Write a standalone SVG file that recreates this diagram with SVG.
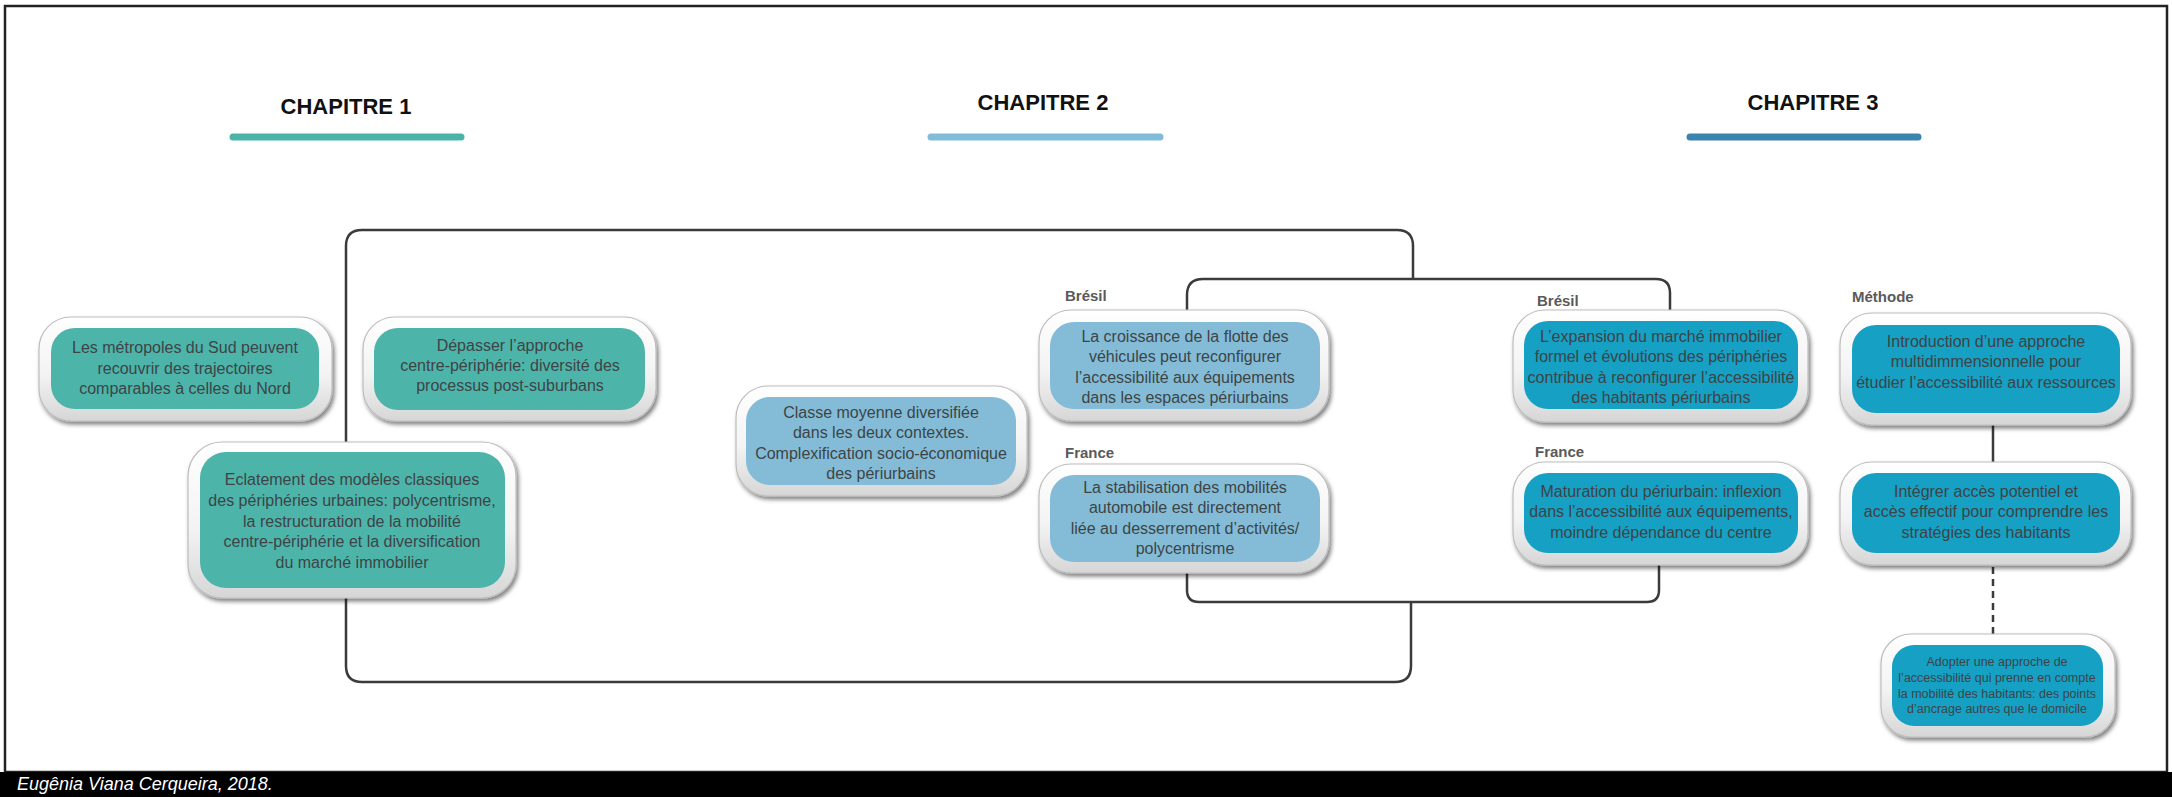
<svg xmlns="http://www.w3.org/2000/svg" width="2172" height="797" viewBox="0 0 2172 797">
<defs>
<linearGradient id="rim" x1="0" y1="0" x2="0" y2="1">
<stop offset="0" stop-color="#ffffff"/>
<stop offset="0.55" stop-color="#f3f3f3"/>
<stop offset="1" stop-color="#d6d6d6"/>
</linearGradient>
<filter id="sh" x="-10%" y="-10%" width="125%" height="130%">
<feDropShadow dx="2" dy="3" stdDeviation="2" flood-color="#000" flood-opacity="0.5"/>
</filter>
<style>
.outer{fill:url(#rim);stroke:#bdbdbd;stroke-width:1.2;filter:url(#sh)}
.c1{fill:#4db4aa}
.c2{fill:#84bcd7}
.c3{fill:#16a0c4}
.t{font-family:"Liberation Sans",Arial,sans-serif;font-size:16px;fill:#3d4446;text-anchor:middle}
.ts{font-size:12.5px}
.lab{font-family:"Liberation Sans",Arial,sans-serif;font-size:15px;font-weight:bold;fill:#5a5a5a}
.title{font-family:"Liberation Sans",Arial,sans-serif;font-size:22px;font-weight:bold;fill:#111;text-anchor:middle}
.bar{stroke-width:7;stroke-linecap:round;fill:none}
.con{fill:none;stroke:#3b3b3b;stroke-width:2.5}
</style>
</defs>
<rect x="0" y="0" width="2172" height="797" fill="#ffffff"/>
<rect x="5" y="6" width="2162" height="766" fill="none" stroke="#222" stroke-width="2.5"/>
<rect x="0" y="772" width="2172" height="25" fill="#000"/>
<text x="17" y="790" font-family="Liberation Sans, Arial, sans-serif" font-size="18" font-style="italic" fill="#fff">Eugênia Viana Cerqueira, 2018.</text>

<g id="headers">
<text class="title" x="346" y="114">CHAPITRE 1</text>
<line class="bar" x1="233" y1="137" x2="461" y2="137" stroke="#4cb3a9"/>
<text class="title" x="1043" y="110">CHAPITRE 2</text>
<line class="bar" x1="931" y1="137" x2="1160" y2="137" stroke="#80bcd7"/>
<text class="title" x="1813" y="110">CHAPITRE 3</text>
<line class="bar" x1="1690" y1="137" x2="1918" y2="137" stroke="#3b84ad"/>
</g>

<g id="connectors">
<path class="con" d="M1413,279 V246 Q1413,230 1397,230 H362 Q346,230 346,246 V666 Q346,682 362,682 H1395 Q1411,682 1411,666 V602"/>
<path class="con" d="M1187,310 V295 Q1187,279 1203,279 H1656 Q1670,279 1670,293 V310"/>
<path class="con" d="M1187,573 V590 Q1187,602 1199,602 H1647 Q1659,602 1659,590 V565"/>
<path class="con" d="M1993,425 V462"/>
<path class="con" d="M1993,567 V634" stroke-dasharray="7 5"/>
</g>

<g id="labels">
<text class="lab" x="1065" y="301">Brésil</text>
<text class="lab" x="1065" y="458">France</text>
<text class="lab" x="1537" y="306">Brésil</text>
<text class="lab" x="1535" y="457">France</text>
<text class="lab" x="1852" y="302" font-size="16">Méthode</text>
</g>

<g id="n1">
<rect class="outer" x="39" y="317" width="293" height="104" rx="32"/>
<rect class="c1" x="51" y="328" width="268" height="81" rx="24"/>
<text class="t" x="185"><tspan x="185" y="353">Les métropoles du Sud peuvent</tspan><tspan x="185" y="374">recouvrir des trajectoires</tspan><tspan x="185" y="394">comparables à celles du Nord</tspan></text>
</g>

<g id="n2">
<rect class="outer" x="363" y="317" width="293" height="104" rx="32"/>
<rect class="c1" x="374" y="328" width="271" height="82" rx="24"/>
<text class="t" x="510"><tspan x="510" y="351">Dépasser l’approche</tspan><tspan x="510" y="371">centre-périphérie: diversité des</tspan><tspan x="510" y="391">processus post-suburbans</tspan></text>
</g>

<g id="n3">
<rect class="outer" x="188" y="442" width="328" height="156" rx="34"/>
<rect class="c1" x="200" y="452" width="305" height="136" rx="26"/>
<text class="t" x="352" font-size="16.5"><tspan x="352" y="485">Eclatement des modèles classiques</tspan><tspan x="352" y="506">des périphéries urbaines: polycentrisme,</tspan><tspan x="352" y="527">la restructuration de la mobilité</tspan><tspan x="352" y="547">centre-périphérie et la diversification</tspan><tspan x="352" y="568">du marché immobilier</tspan></text>
</g>

<g id="n4">
<rect class="outer" x="736" y="386" width="291" height="110" rx="32"/>
<rect class="c2" x="746" y="397" width="270" height="88" rx="24"/>
<text class="t" x="881"><tspan x="881" y="418">Classe moyenne diversifiée</tspan><tspan x="881" y="438">dans les deux contextes.</tspan><tspan x="881" y="459">Complexification socio-économique</tspan><tspan x="881" y="479">des périurbains</tspan></text>
</g>

<g id="n5">
<rect class="outer" x="1039" y="310" width="290" height="111" rx="32"/>
<rect class="c2" x="1050" y="322" width="270" height="87" rx="24"/>
<text class="t" x="1185"><tspan x="1185" y="342">La croissance de la flotte des</tspan><tspan x="1185" y="362">véhicules peut reconfigurer</tspan><tspan x="1185" y="383">l’accessibilité aux équipements</tspan><tspan x="1185" y="403">dans les espaces périurbains</tspan></text>
</g>

<g id="n6">
<rect class="outer" x="1039" y="464" width="290" height="109" rx="32"/>
<rect class="c2" x="1050" y="475" width="270" height="87" rx="24"/>
<text class="t" x="1185"><tspan x="1185" y="493">La stabilisation des mobilités</tspan><tspan x="1185" y="513">automobile est directement</tspan><tspan x="1185" y="534">liée au desserrement d’activités/</tspan><tspan x="1185" y="554">polycentrisme</tspan></text>
</g>

<g id="n7">
<rect class="outer" x="1513" y="310" width="295" height="112" rx="32"/>
<rect class="c3" x="1524" y="321" width="274" height="88" rx="24"/>
<text class="t" x="1661"><tspan x="1661" y="342">L’expansion du marché immobilier</tspan><tspan x="1661" y="362">formel et évolutions des périphéries</tspan><tspan x="1661" y="383">contribue à reconfigurer l’accessibilité</tspan><tspan x="1661" y="403">des habitants périurbains</tspan></text>
</g>

<g id="n8">
<rect class="outer" x="1513" y="462" width="295" height="103" rx="32"/>
<rect class="c3" x="1524" y="473" width="274" height="80" rx="24"/>
<text class="t" x="1661"><tspan x="1661" y="497">Maturation du périurbain: inflexion</tspan><tspan x="1661" y="517">dans l’accessibilité aux équipements,</tspan><tspan x="1661" y="538">moindre dépendance du centre</tspan></text>
</g>

<g id="n9">
<rect class="outer" x="1840" y="313" width="291" height="112" rx="32"/>
<rect class="c3" x="1852" y="325" width="268" height="88" rx="24"/>
<text class="t" x="1986"><tspan x="1986" y="347">Introduction d’une approche</tspan><tspan x="1986" y="367">multidimmensionnelle pour</tspan><tspan x="1986" y="388">étudier l’accessibilité aux ressources</tspan></text>
</g>

<g id="n10">
<rect class="outer" x="1840" y="462" width="291" height="103" rx="32"/>
<rect class="c3" x="1852" y="473" width="268" height="80" rx="24"/>
<text class="t" x="1986"><tspan x="1986" y="497">Intégrer accès potentiel et</tspan><tspan x="1986" y="517">accès effectif pour comprendre les</tspan><tspan x="1986" y="538">stratégies des habitants</tspan></text>
</g>

<g id="n11">
<rect class="outer" x="1881" y="634" width="234" height="103" rx="30"/>
<rect class="c3" x="1892" y="645" width="211" height="81" rx="22"/>
<text class="t ts" x="1997"><tspan x="1997" y="666">Adopter une approche de</tspan><tspan x="1997" y="682">l’accessibilité qui prenne en compte</tspan><tspan x="1997" y="698">la mobilité des habitants: des points</tspan><tspan x="1997" y="713">d’ancrage autres que le domicile</tspan></text>
</g>
</svg>
